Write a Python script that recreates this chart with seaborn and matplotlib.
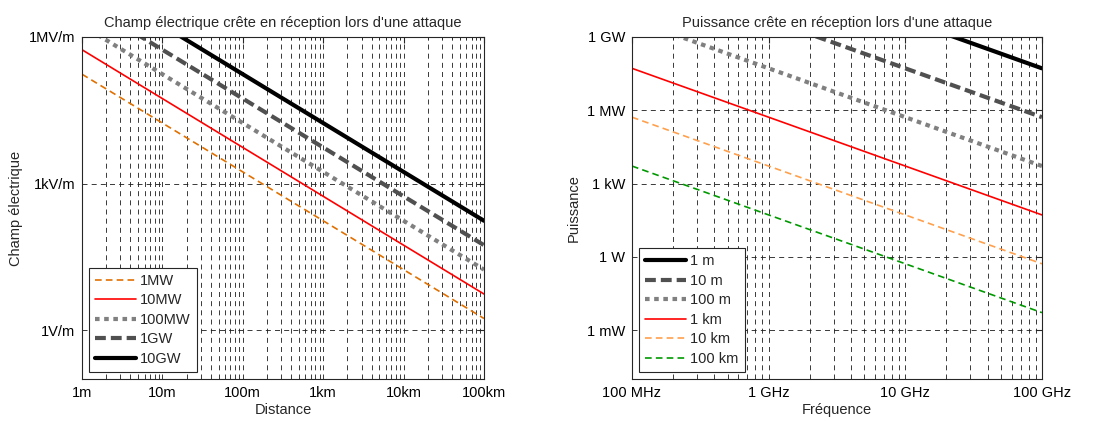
import pandas as pd
import seaborn as sns
import matplotlib.pyplot as plt
from matplotlib.ticker import FixedLocator, LogLocator, NullLocator, NullFormatter

# -----------------------------
# Données (droites en log-log : deux points suffisent)
# -----------------------------
# Champ électrique vs distance
distance_m = [1, 1e5]
champ_labels = ['1MW', '10MW', '100MW', '1GW', '10GW']
champ_1MW = [1.73e5, 1.73]
champ_10MW = [5.48e5, 5.48]
champ_100MW = [1.73e6, 17.3]
champ_1GW = [5.48e6, 54.8]
champ_10GW = [1.73e7, 173]

# Puissance reçue vs fréquence
freq_hz = [1e8, 1e11]
puis_labels = ['1 m', '10 m', '100 m', '1 km', '10 km', '100 km']
puis_1m = [5.2e13, 5.2e7]
puis_10m = [5.2e11, 5.2e5]
puis_100m = [5.2e9, 5.2e3]
puis_1km = [5.2e7, 52]
puis_10km = [5.2e5, 0.52]
puis_100km = [5.2e3, 5.2e-3]

# Styles (couleur, épaisseur, tirets)
styles_champ = [
    ('#e07000', 1.2, (0, (4, 2.5))),
    ('#ff0000', 1.2, '-'),
    ('#808080', 3.0, (0, (1.1, 1.1))),
    ('#505050', 3.0, (0, (2.6, 1.2))),
    ('#000000', 3.0, '-'),
]
styles_puis = [
    ('#000000', 3.0, '-'),
    ('#505050', 3.0, (0, (2.6, 1.2))),
    ('#808080', 3.0, (0, (1.1, 1.1))),
    ('#ff0000', 1.2, '-'),
    ('#ffa04c', 1.2, (0, (4, 2.5))),
    ('#009900', 1.2, (0, (4, 2.5))),
]

FS = 10.5

sns.set_style('white')
plt.rcParams['font.family'] = ['Liberation Sans', 'DejaVu Sans']
plt.rcParams['font.size'] = FS

fig = plt.figure(figsize=(11.02, 4.21), dpi=100)
ax1 = fig.add_axes([0.0744, 0.0998, 0.3648, 0.8124])
ax2 = fig.add_axes([0.5735, 0.0998, 0.3720, 0.8124])

grid_kw = dict(color='0.1', linewidth=0.6, linestyle=(0, (6, 5)))


def style_axes(ax):
    ax.set_xscale('log')
    ax.set_yscale('log')
    ax.xaxis.set_minor_locator(LogLocator(base=10, subs=range(2, 10), numticks=50))
    ax.xaxis.set_minor_formatter(NullFormatter())
    ax.yaxis.set_minor_locator(NullLocator())
    ax.grid(which='both', axis='x', **grid_kw)
    ax.grid(which='major', axis='y', **grid_kw)
    ax.tick_params(which='both', direction='in', top=True, right=True,
                   colors='0.15', labelcolor='black', labelsize=FS)
    ax.tick_params(which='major', length=4, pad=5)
    ax.tick_params(which='minor', length=2)
    for sp in ax.spines.values():
        sp.set_color('0.15')
        sp.set_linewidth(0.8)


# -----------------------------
# Graphe gauche : champ électrique
# -----------------------------
champ_series = [champ_1MW, champ_10MW, champ_100MW, champ_1GW, champ_10GW]
for lab, vals, (c, lw, ls) in zip(champ_labels, champ_series, styles_champ):
    sns.lineplot(x=distance_m, y=vals, ax=ax1, color=c, linewidth=lw,
                 linestyle=ls, label=lab)

style_axes(ax1)
ax1.set_xlim(1, 1e5)
ax1.set_ylim(0.1, 1e6)
ax1.xaxis.set_major_locator(FixedLocator([1, 10, 100, 1e3, 1e4, 1e5]))
ax1.set_xticklabels(['1m', '10m', '100m', '1km', '10km', '100km'])
ax1.yaxis.set_major_locator(FixedLocator([1, 1e3, 1e6]))
ax1.set_yticklabels(['1V/m', '1kV/m', '1MV/m'])
ax1.set_title("Champ électrique crête en réception lors d'une attaque", fontsize=FS, pad=7)
ax1.set_xlabel('Distance', fontsize=FS, labelpad=2)
ax1.set_ylabel('Champ électrique', fontsize=FS, labelpad=4)

# -----------------------------
# Graphe droit : puissance
# -----------------------------
puis_series = [puis_1m, puis_10m, puis_100m, puis_1km, puis_10km, puis_100km]
for lab, vals, (c, lw, ls) in zip(puis_labels, puis_series, styles_puis):
    sns.lineplot(x=freq_hz, y=vals, ax=ax2, color=c, linewidth=lw,
                 linestyle=ls, label=lab)

style_axes(ax2)
ax2.set_xlim(1e8, 1e11)
ax2.set_ylim(1e-5, 1e9)
ax2.xaxis.set_major_locator(FixedLocator([1e8, 1e9, 1e10, 1e11]))
ax2.set_xticklabels(['100 MHz', '1 GHz', '10 GHz', '100 GHz'])
ax2.yaxis.set_major_locator(FixedLocator([1e-3, 1, 1e3, 1e6, 1e9]))
ax2.set_yticklabels(['1 mW', '1 W', '1 kW', '1 MW', '1 GW'])
ax2.set_title("Puissance crête en réception lors d'une attaque", fontsize=FS, pad=7)
ax2.set_xlabel('Fréquence', fontsize=FS, labelpad=2)
ax2.set_ylabel('Puissance', fontsize=FS, labelpad=4)

for ax in (ax1, ax2):
    leg = ax.legend(loc='lower left', fancybox=False, framealpha=1,
                    edgecolor='0.15', handlelength=2.8, handletextpad=0.3,
                    labelspacing=0.38, borderpad=0.4, borderaxespad=0.5,
                    fontsize=FS)
    leg.get_frame().set_linewidth(0.8)

fig.savefig('out.png', dpi=100)
